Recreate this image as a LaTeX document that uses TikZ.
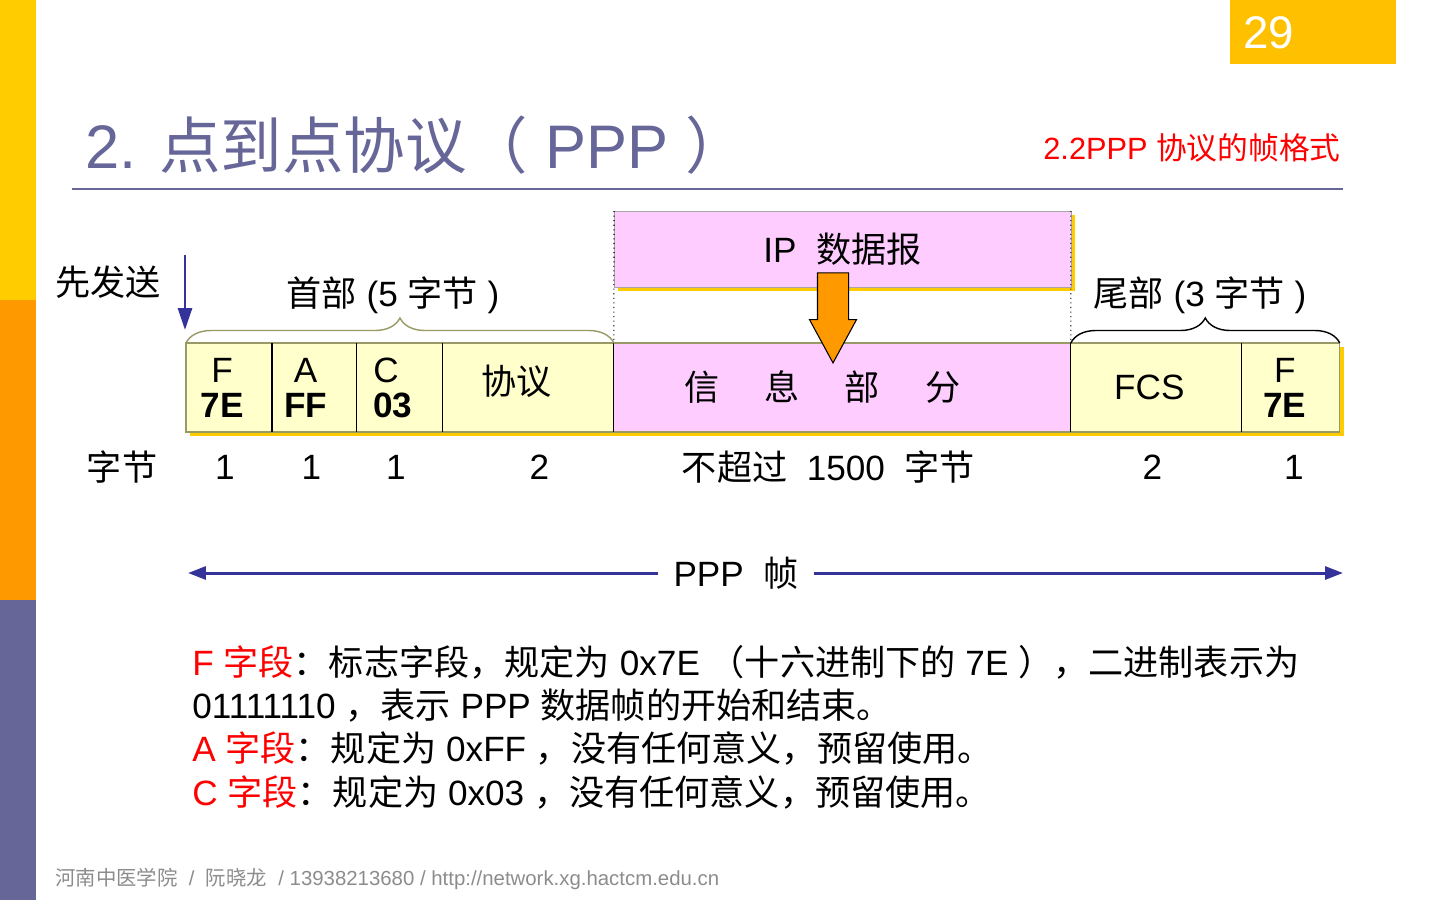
\documentclass[tikz,border=0pt]{standalone}
\usepackage{fontspec}
\setmainfont{Liberation Sans}
\newfontfamily\cjk{Noto Sans CJK SC}
\newcommand\zh[1]{{\cjk #1}}
\usepackage{tikz}
\usetikzlibrary{arrows.meta,positioning,shadows,shapes.arrows,decorations.pathreplacing}

\definecolor{baryellow}{HTML}{FFCC00}
\definecolor{barorange}{HTML}{FF9900}
\definecolor{barpurple}{HTML}{666699}
\definecolor{pagegold}{HTML}{FFC000}
\definecolor{cellyellow}{HTML}{FFFFCC}
\definecolor{cellpink}{HTML}{FFCCFF}
\definecolor{olivegray}{HTML}{999966}
\definecolor{sendblue}{HTML}{333399}
\definecolor{footgray}{HTML}{8C8C8C}

\begin{document}
\begin{tikzpicture}[
    x=0.02cm, y=-0.02cm,
    txt/.style={inner sep=0pt, font=\fontsize{20}{24.5}\selectfont},
    cell/.style={fill=cellyellow, minimum height=1.78cm, inner sep=0pt, outer sep=0pt,
        drop shadow={shadow xshift=0.08cm, shadow yshift=-0.08cm, fill=baryellow, opacity=1}},
    celltext/.style={inner sep=0pt, align=center, font=\fontsize{20}{20}\selectfont},
    bigarrow/.style={single arrow, shape border rotate=270, fill=barorange, draw=black,
        line width=0.6pt, inner sep=0.3cm, minimum height=1.8cm, minimum width=0.92cm,
        single arrow head extend=0.16cm, single arrow tip angle=57},
    sendarrow/.style={-{Triangle[length=0.44cm, width=0.28cm]}, sendblue, line width=1.7pt},
    framearrow/.style={-{Triangle[length=0.36cm, width=0.26cm]}, sendblue, line width=1.7pt},
    hbrace/.style={decorate, decoration={brace, amplitude=0.5cm}, line width=0.8pt}
]
\useasboundingbox (0,0) rectangle (1440,900);

% side bar and page number
\fill[baryellow] (0,0) rectangle (36,300);
\fill[barorange] (0,300) rectangle (36,600);
\fill[barpurple] (0,600) rectangle (36,900);
\node[fill=pagegold, minimum width=3.32cm, minimum height=1.28cm, inner sep=0pt, anchor=north west] (pagebox) at (1230,0) {};
\node[text=white, anchor=west, inner sep=0pt, font=\fontsize{26}{26}\selectfont] (pagenum) at (1243,33) {29};

% title
\node[anchor=base west, inner sep=0pt, text=barpurple, font=\fontsize{35}{40}\selectfont] (title) at (85,168) {2. \zh{点到点协议（} PPP \zh{）}};
\node[anchor=east, inner sep=0pt, text=red, font=\fontsize{17.5}{20}\selectfont] (subtitle) at (1341,148) {2.2PPP \zh{协议的帧格式}};
\draw[barpurple, line width=1.2pt] (72,189) -- (1343,189);

% frame fields
\node[cell, minimum width=1.72cm, anchor=north west] (f1) at (186,343) {};
\node[cell, minimum width=1.70cm, right=0pt of f1] (a) {};
\node[cell, minimum width=1.72cm, right=0pt of a] (c) {};
\node[cell, minimum width=3.42cm, right=0pt of c] (pr) {};
\node[cell, fill=cellpink, minimum width=9.14cm, right=0pt of pr] (info) {};
\node[cell, minimum width=3.42cm, right=0pt of info] (fcs) {};
\node[cell, minimum width=1.96cm, right=0pt of fcs] (f2) {};
\draw[olivegray, line width=0.6pt] (f1.north west) rectangle (f2.south east);
\foreach \c in {a,c,pr,info,fcs,f2}
    \draw[line width=0.6pt] (\c.north west) -- (\c.south west);

\node[celltext] (f1t) at ([xshift=-0.14cm]f1.center) {F\\\textbf{7E}};
\node[celltext] (at) at ([xshift=-0.18cm]a.center) {A\\\textbf{FF}};
\node[celltext, align=left] (ct) at ([xshift=-0.14cm]c.center) {C\\\textbf{03}};
\node[celltext] (prt) at ([xshift=-0.24cm, yshift=0.12cm]pr.center) {\zh{协议}};
\node[celltext] (infot) at ([xshift=-0.4cm]info.center) {\zh{信\hspace{0.9cm}息\hspace{0.9cm}部\hspace{0.9cm}分}};
\node[celltext] (fcst) at ([xshift=-0.14cm]fcs.center) {FCS};
\node[celltext] (f2t) at ([xshift=-0.12cm]f2.center) {F\\\textbf{7E}};

% IP datagram
\node[cell, fill=cellpink, draw=gray!70, line width=0.4pt, minimum width=9.14cm, minimum height=1.52cm,
    font=\fontsize{20}{20}\selectfont, anchor=south west] (ip) at (614,287) {IP\ \ \zh{数据报}};
\draw[dotted, line width=0.6pt] (ip.north west) -- (info.north west);
\draw[dotted, line width=0.6pt] (ip.north east) -- (info.north east);
\node[bigarrow, anchor=tip] (drop) at (833,364) {};

% braces
\draw[hbrace, olivegray] (f1.north west) -- (pr.north east);
\draw[hbrace, black] (fcs.north west) -- (f2.north east);
\node[txt] (head) at (393,295) {\zh{首部} (5 \zh{字节} )};
\node[txt] (tail) at (1200,295) {\zh{尾部} (3 \zh{字节} )};

% send first
\node[txt] (first) at (108,282) {\zh{先发送}};
\coordinate (sendtop) at (185,255);
\coordinate (sendtip) at (185,330);
\draw[sendarrow] (sendtop) -- (sendtip);

% byte counts
\coordinate (numrow) at (0,467);
\node[txt] (bytes) at (122,467) {\zh{字节}};
\node[txt] (nf1) at ([xshift=-0.08cm]f1 |- numrow) {1};
\node[txt] (na) at ([xshift=-0.06cm]a |- numrow) {1};
\node[txt] (nc) at ([xshift=-0.08cm]c |- numrow) {1};
\node[txt] (npr) at ([xshift=0.22cm]pr |- numrow) {2};
\node[txt] (ninfo) at ([xshift=-0.28cm]info |- numrow) {\zh{不超过}\ \ 1500\ \ \zh{字节}};
\node[txt] (nfcs) at ([xshift=-0.08cm]fcs |- numrow) {2};
\node[txt] (nf2) at ([xshift=0.06cm]f2 |- numrow) {1};

% PPP frame
\node[txt, fill=white, inner xsep=0.3cm, inner ysep=0.1cm] (ppp) at (736,573) {PPP\ \ \zh{帧}};
\coordinate (frameleft) at (188,573);
\coordinate (frameright) at (1343,573);
\draw[framearrow] (ppp) -- (frameleft);
\draw[framearrow] (ppp) -- (frameright);

% notes
\node[txt, anchor=base west] (n1) at (192,675) {{\color{red}F \zh{字段}}\zh{：标志字段，规定为} 0x7E \zh{（十六进制下的} 7E \zh{），二进制表示为}};
\node[txt, anchor=base west] (n2) at (192,718) {01111110 \zh{，表示} PPP \zh{数据帧的开始和结束。}};
\node[txt, anchor=base west] (n3) at (192,761) {{\color{red}A \zh{字段}}\zh{：规定为} 0xFF \zh{，没有任何意义，预留使用。}};
\node[txt, anchor=base west] (n4) at (192,805) {{\color{red}C \zh{字段}}\zh{：规定为} 0x03 \zh{，没有任何意义，预留使用。}};

% footer
\node[anchor=west, inner sep=0pt, text=footgray, font=\fontsize{11.6}{14}\selectfont] (foot) at (55,879) {\zh{河南中医学院}\ \ /\ \ \zh{阮晓龙}\ \ / 13938213680 / http://network.xg.hactcm.edu.cn};
\end{tikzpicture}
\end{document}
